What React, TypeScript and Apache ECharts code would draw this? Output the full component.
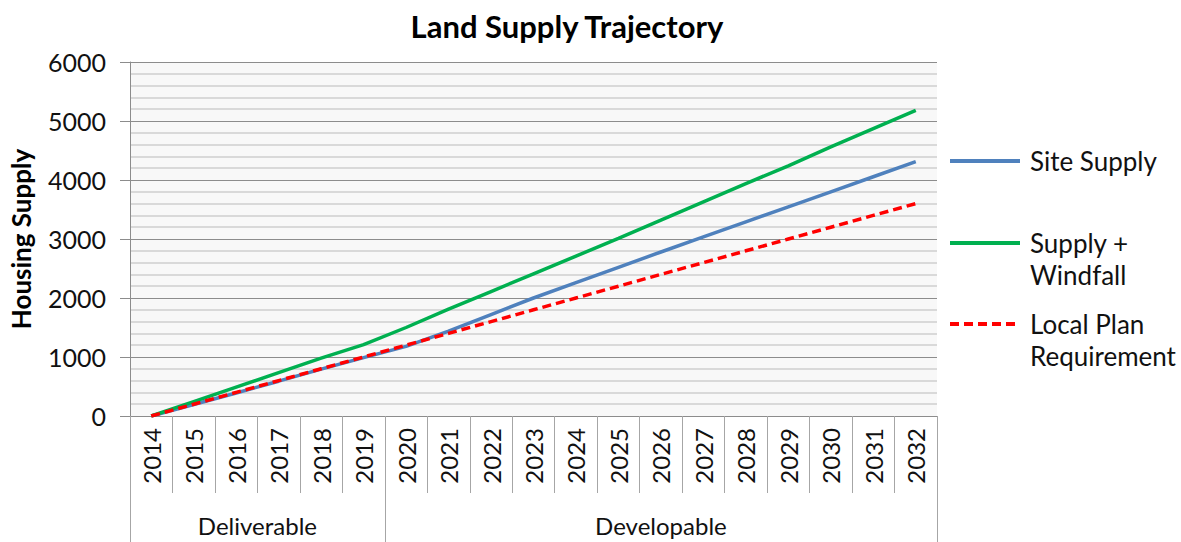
import React, { useEffect, useRef } from "react";
import * as echarts from "echarts";

const years = ["2014","2015","2016","2017","2018","2019","2020","2021","2022","2023","2024","2025","2026","2027","2028","2029","2030","2031","2032"];
const siteSupply = [0, 195, 390, 590, 795, 990, 1180, 1440, 1720, 2000, 2260, 2520, 2780, 3035, 3290, 3545, 3800, 4055, 4310];
const supplyWindfall = [0, 245, 490, 735, 980, 1210, 1500, 1810, 2110, 2410, 2710, 3010, 3320, 3630, 3940, 4240, 4560, 4870, 5180];
const localPlan = [0, 200, 400, 600, 800, 1000, 1200, 1400, 1600, 1800, 2000, 2200, 2400, 2600, 2800, 3000, 3200, 3400, 3600];
const groupNames = ["Deliverable", "Developable"];
const groupSpans = [6, 13];
const seriesNames = ["Site Supply", "Supply + Windfall", "Local Plan Requirement"];
const legendLines = [["Site Supply"], ["Supply +", "Windfall"], ["Local Plan", "Requirement"]];

const FONT = "Lato";

export default function App() {
  const ref = useRef<HTMLDivElement>(null);
  useEffect(() => {
    if (!ref.current) return;
    const chart = echarts.init(ref.current, undefined, { renderer: "svg" });

    const boundaries: number[] = [0];
    const centers: number[] = [];
    let acc = 0;
    groupSpans.forEach((s) => {
      centers.push(acc + s / 2);
      acc += s;
      boundaries.push(acc);
    });

    const legendFormatter = (n: string) => {
      const lines = legendLines[seriesNames.indexOf(n)];
      const parts = lines.map((l) => `{t|${l}}`);
      // leading blank line keeps the first text line level with the icon
      if (lines.length > 1) parts.unshift("{t| }");
      return parts.join("\n");
    };

    const legendBase = {
      orient: "vertical",
      left: 948,
      itemWidth: 70,
      itemHeight: 4,
      padding: 0,
      selectedMode: false,
      itemStyle: { opacity: 0 },
      lineStyle: { width: 4 },
      textStyle: {
        fontFamily: FONT,
        fontSize: 26,
        color: "#111",
        rich: { t: { fontFamily: FONT, fontSize: 26, color: "#111", lineHeight: 32, padding: [0, 0, 0, 5] } },
      },
      formatter: legendFormatter,
    };

    const option: any = {
      animation: false,
      backgroundColor: "#ffffff",
      title: {
        text: "Land Supply Trajectory",
        left: 562,
        top: 5,
        textAlign: "center",
        textStyle: { fontFamily: FONT, fontSize: 31, fontWeight: "bold", color: "#000" },
      },
      legend: [
        { ...legendBase, top: 148, data: [seriesNames[0]] },
        { ...legendBase, top: 198, data: [seriesNames[1]] },
        { ...legendBase, top: 279, data: [seriesNames[2]] },
      ],
      grid: {
        left: 127,
        right: 244,
        top: 62,
        bottom: 126,
        show: true,
        backgroundColor: "#f8f8f8",
        borderWidth: 0,
      },
      xAxis: [
        {
          type: "category",
          position: "bottom",
          data: years,
          boundaryGap: true,
          axisLine: { show: true, lineStyle: { color: "#8c8c8c", width: 1 } },
          axisTick: { show: true, interval: 0, length: 77, lineStyle: { color: "#a6a6a6" } },
          axisLabel: {
            interval: 0,
            rotate: 90,
            margin: 12,
            fontFamily: FONT,
            fontSize: 24,
            color: "#111",
          },
          splitLine: { show: false },
        },
        {
          type: "value",
          position: "bottom",
          min: 0,
          max: years.length,
          axisLine: { show: false },
          splitLine: { show: false },
          axisTick: { show: true, customValues: boundaries, length: 126, lineStyle: { color: "#a6a6a6" } },
          axisLabel: {
            customValues: centers,
            formatter: (v: number) => groupNames[centers.indexOf(v)] ?? "",
            margin: 97,
            fontFamily: FONT,
            fontSize: 24,
            color: "#111",
          },
        },
      ],
      yAxis: {
        type: "value",
        min: 0,
        max: 6000,
        interval: 1000,
        name: "Housing Supply",
        nameLocation: "middle",
        nameGap: 96,
        nameTextStyle: { fontFamily: FONT, fontSize: 26, fontWeight: "bold", color: "#000" },
        axisLine: { show: true, lineStyle: { color: "#8c8c8c" } },
        axisTick: { show: true, length: 10, lineStyle: { color: "#8c8c8c" } },
        axisLabel: {
          margin: 24,
          fontFamily: FONT,
          fontSize: 25,
          color: "#111",
          formatter: (v: number) => String(v),
        },
        splitLine: { show: true, lineStyle: { color: "#8c8c8c", width: 1 } },
        minorTick: { show: false, splitNumber: 5 },
        minorSplitLine: { show: true, lineStyle: { color: "#d9d9d9", width: 2 } },
      },
      series: [
        {
          name: seriesNames[0],
          type: "line",
          data: siteSupply,
          symbol: "none",
          lineStyle: { color: "#4f81bd", width: 3.5 },
          itemStyle: { color: "#4f81bd" },
        },
        {
          name: seriesNames[1],
          type: "line",
          data: supplyWindfall,
          symbol: "none",
          lineStyle: { color: "#00b050", width: 3.5 },
          itemStyle: { color: "#00b050" },
        },
        {
          name: seriesNames[2],
          type: "line",
          data: localPlan,
          symbol: "none",
          lineStyle: { color: "#ff0000", width: 3.5, type: [9, 5] },
          itemStyle: { color: "#ff0000" },
        },
      ],
    };
    chart.setOption(option);
    return () => chart.dispose();
  }, []);

  return (
    <div
      ref={ref}
      style={{ position: "fixed", left: 0, top: 0, width: 1181, height: 542 }}
    />
  );
}
